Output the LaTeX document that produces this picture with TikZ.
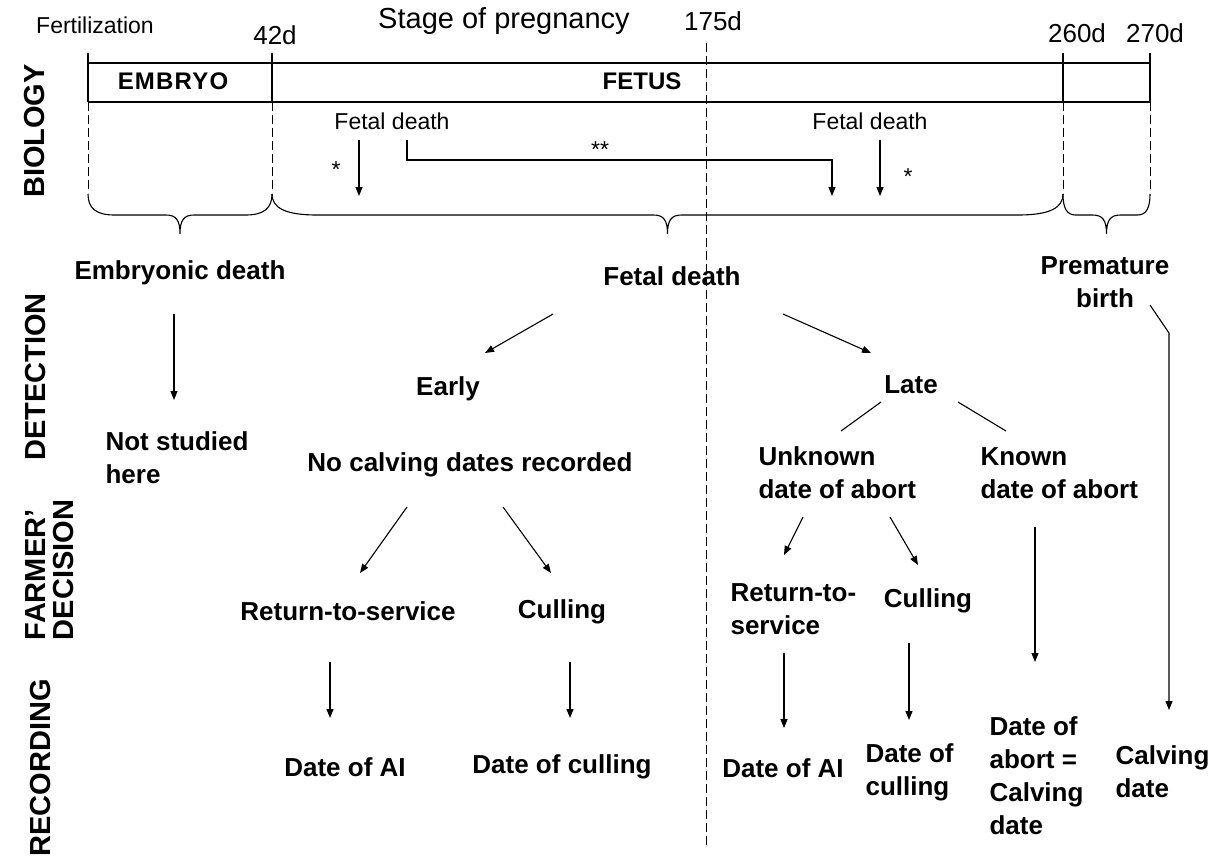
\documentclass[tikz,border=0pt]{standalone}
\usepackage{fontspec}
\setmainfont{Liberation Sans}
\usetikzlibrary{arrows.meta}
\tikzset{
  every picture/.style={line width=1.1pt},
  lane/.style={font=\bfseries\fontsize{29}{28}\selectfont, rotate=90, inner sep=0pt, align=left},
  txt/.style={font=\bfseries\fontsize{26}{33}\selectfont, inner sep=0pt, align=center},
  ltxt/.style={txt, align=left, anchor=west},
  band/.style={font=\bfseries\fontsize{24}{26}\selectfont, inner sep=0pt},
  note/.style={font=\fontsize{23}{27}\selectfont, inner sep=0pt},
  day/.style={font=\fontsize{26}{30}\selectfont, inner sep=0pt},
  arr/.style={-{Triangle[length=9pt, width=7pt]}},
  dashln/.style={dash pattern=on 9pt off 4pt, line width=0.9pt},
}

\begin{document}
\begin{tikzpicture}[x=1pt, y=-1pt]
  \useasboundingbox (0,0) rectangle (1220,860);
  % time axis
  \node[note] (fert) at (95,25) {Fertilization};
  \node[day] (d42) at (275,35) {42d};
  \node[day, font=\fontsize{29}{30}\selectfont] (stage) at (504,21) {Stage of pregnancy};
  \node[day] (d175) at (713,21) {175d};
  \node[day] (d260) at (1077,33) {260d};
  \node[day] (d270) at (1155,33) {270d};
  \draw (88,63) -- (1150,63);
  \draw (88,102) -- (1150,102);
  \foreach \x in {88,272,1063,1150} {
    \draw (\x,53) -- (\x,102);
    \draw[dashln] (\x,102) -- (\x,193);
  }
  \draw[dashln] (706,43) -- (706,846);
  \node[band, font=\bfseries\fontsize{24}{26}\selectfont\addfontfeature{LetterSpace=5}] (embryo) at (173,81) {EMBRYO};
  \node[band] (fetus) at (642,81) {FETUS};
  % lanes
  \node[lane] (bio) at (35,131) {BIOLOGY};
  \node[lane] (det) at (36,377) {DETECTION};
  \node[lane] (farm) at (50,570) {FARMER’\\DECISION};
  \node[lane] (rec) at (41,768) {RECORDING};
  % biology
  \node[note] (fd1) at (392,121) {Fetal death};
  \node[note] (fd2) at (870,121) {Fetal death};
  \node[note] (s1) at (336,170) {*};
  \node[note] (s2) at (600,150) {**};
  \node[note] (s3) at (908,177) {*};
  \draw[arr] ([shift={(-33,19)}]fd1.center) -- ++(0,56);
  \draw[arr] ([shift={(15,19)}]fd1.center) -- ++(0,20) -| ++(425,36);
  \draw[arr] ([shift={(10,19)}]fd2.center) -- ++(0,56);
  \foreach \a/\b in {88/272, 272/1063, 1063/1150} {
    \pgfmathsetmacro\m{(\a+\b)/2}
    \pgfmathsetmacro\e{min(45,(\b-\a)/7)}
    \draw (\a,194) .. controls (\a,208) and (\a+0.3*\e,215) .. (\a+\e,215) -- (\m-14,215)
      .. controls (\m-4,215) and (\m,220) .. (\m,234)
      .. controls (\m,220) and (\m+4,215) .. (\m+14,215) -- (\b-\e,215)
      .. controls (\b-0.3*\e,215) and (\b,208) .. (\b,194);
  }
  % detection
  \node[txt] (emb) at (180,273) {Embryonic death};
  \node[txt] (fdb) at (672,276) {Fetal death};
  \node[txt] (prem) at (1105,282) {Premature\\birth};
  \node[ltxt] (nst) at (105,458) {Not studied\\here};
  \node[txt] (early) at (448,389) {Early};
  \node[txt] (ncd) at (470,465) {No calving dates recorded};
  \node[txt] (late) at (911,385) {Late};
  \node[ltxt] (unk) at (758,473) {Unknown\\date of abort};
  \node[ltxt] (known) at (980,473) {Known\\date of abort};
  \draw[arr] ([shift={(-6,41)}]emb.center) -- ([shift={(69,-58)}]nst.west);
  \draw[arr] ([shift={(-119,38)}]fdb.center) -- ([shift={(37,-36)}]early.center);
  \draw[arr] ([shift={(111,38)}]fdb.center) -- ([shift={(-40,-32)}]late.center);
  \draw ([shift={(-30,17)}]late.center) -- ([shift={(83,-42)}]unk.west);
  \draw ([shift={(47,17)}]late.center) -- ([shift={(26,-42)}]known.west);
  % farmer decision
  \node[txt] (rts) at (348,611) {Return-to-service};
  \node[txt] (cull) at (562,612) {Culling};
  \node[ltxt] (rts2) at (730,609) {Return-to-\\service};
  \node[txt] (cull2) at (928,601) {Culling};
  \draw[arr] ([shift={(-63,42)}]ncd.center) -- ([shift={(12,-38)}]rts.center);
  \draw[arr] ([shift={(33,42)}]ncd.center) -- ([shift={(-11,-39)}]cull.center);
  \draw[arr] ([shift={(45,44)}]unk.west) -- ([shift={(54,-54)}]rts2.west);
  \draw[arr] ([shift={(132,44)}]unk.west) -- ([shift={(-10,-36)}]cull2.center);
  % recording
  \node[txt] (dai) at (345,767) {Date of AI};
  \node[txt] (dcl) at (562,767) {Date of culling};
  \node[txt] (dai2) at (783,768) {Date of AI};
  \node[ltxt] (dcl2) at (865,772) {Date of\\culling};
  \node[ltxt] (dab) at (989,776) {Date of\\abort =\\Calving\\date};
  \node[ltxt] (cvd) at (1115,772) {Calving\\date};
  \draw[arr] ([shift={(-18,51)}]rts.center) -- ([shift={(-15,-49)}]dai.center);
  \draw[arr] ([shift={(8,50)}]cull.center) -- ([shift={(8,-49)}]dcl.center);
  \draw[arr] ([shift={(54,44)}]rts2.west) -- ([shift={(1,-40)}]dai2.center);
  \draw[arr] ([shift={(-19,42)}]cull2.center) -- ([shift={(44,-52)}]dcl2.west);
  \draw[arr] ([shift={(55,54)}]known.west) -- ([shift={(46,-114)}]dab.west);
  \draw[arr] ([shift={(45,23)}]prem.center) -- ++(19,28) -- ([shift={(54,-62)}]cvd.west);
\end{tikzpicture}
\end{document}
